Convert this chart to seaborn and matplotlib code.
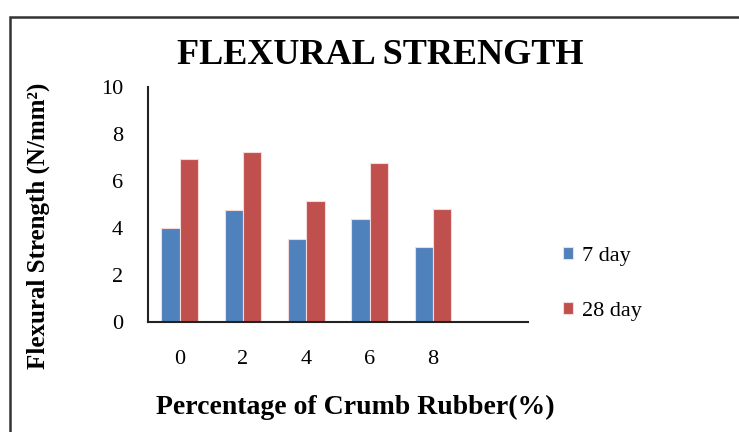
import pandas as pd
import matplotlib
matplotlib.use('Agg')
import matplotlib.pyplot as plt
import seaborn as sns
from matplotlib.patches import Rectangle

# data
percent = ['0', '2', '4', '6', '8']
day7 = [4.0, 4.77, 3.52, 4.40, 3.2]
day28 = [6.95, 7.25, 5.15, 6.75, 4.8]

df = pd.DataFrame({
    'pct': percent * 2,
    'strength': day7 + day28,
    'age': ['7 day'] * len(percent) + ['28 day'] * len(percent),
})

sns.set_style('white')
plt.rcParams['font.family'] = ['Liberation Serif', 'DejaVu Serif']
plt.rcParams['text.color'] = 'black'
plt.rcParams['xtick.color'] = 'black'
plt.rcParams['ytick.color'] = 'black'
plt.rcParams['axes.labelcolor'] = 'black'

fig = plt.figure(figsize=(7.39, 4.32), dpi=100)
ax = fig.add_axes([0.2003, 0.2546, 0.5142, 0.544])

sns.barplot(data=df, x='pct', y='strength', hue='age',
            palette=['#4F81BD', '#C0504D'], saturation=1, width=0.58,
            edgecolor='#f4dada', linewidth=0.8, ax=ax)

ax.set_xlim(-0.5, 5.5)
ax.set_ylim(0, 10)
ax.set_yticks([0, 2, 4, 6, 8, 10])
ax.tick_params(axis='y', direction='out', length=5, width=1, color='#222222',
               labelsize=16, pad=13)
ax.tick_params(axis='x', length=0, labelsize=16, pad=20)
for s in ['top', 'right']:
    ax.spines[s].set_visible(False)
for s in ['left', 'bottom']:
    ax.spines[s].set_color('#222222')
    ax.spines[s].set_linewidth(1.5)

ax.set_xlabel('Percentage of Crumb Rubber(%)', fontsize=20, fontweight='bold')
ax.set_ylabel('Flexural Strength (N/mm²)', fontsize=18, fontweight='bold')
ax.xaxis.set_label_coords(0.545, -0.31)
ax.yaxis.set_label_coords(-0.258, 0.41)

fig.text(0.514, 0.872, 'FLEXURAL STRENGTH', ha='center', va='center',
         fontsize=26, fontweight='bold')

leg = ax.legend(loc='center left', bbox_to_anchor=(1.092, 0.162), frameon=False,
                fontsize=16, handlelength=0.45, handleheight=0.45,
                labelspacing=1.6, handletextpad=0.4, borderpad=0, borderaxespad=0)

# outer chart border
fig.patches.append(Rectangle((10 / 739, -0.1), 1.1, 1 - 17 / 432 + 0.1,
                             transform=fig.transFigure, fill=False,
                             edgecolor='#333333', linewidth=1.8))

fig.savefig('out.png', dpi=100)
